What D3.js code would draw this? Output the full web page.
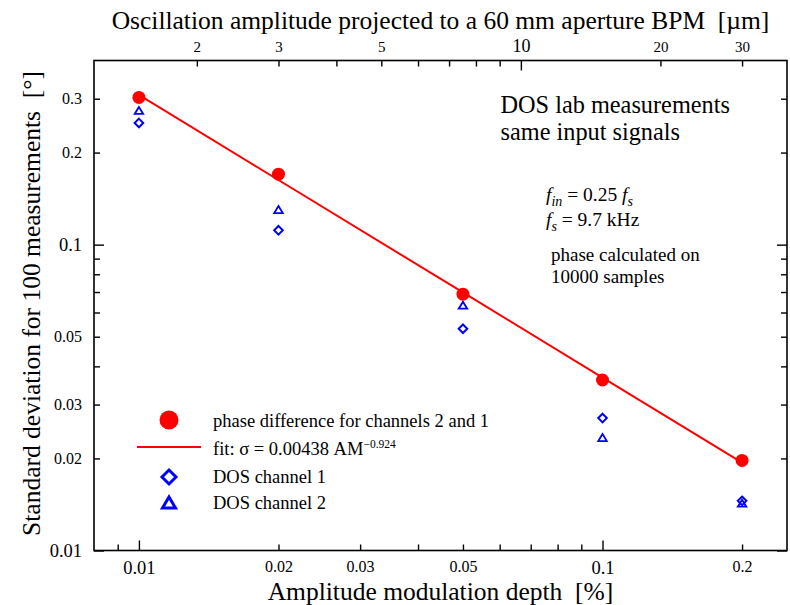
<!DOCTYPE html>
<html>
<head>
<meta charset="utf-8">
<script src="https://cdn.jsdelivr.net/npm/d3@7"></script>
<style>
  body { margin: 0; background: #fff; }
  svg text { font-family: "Liberation Serif", "Tinos", "DejaVu Serif", "Noto Serif", "Times New Roman", Times, serif; fill: #000; }
</style>
</head>
<body>
<svg id="chart" width="790" height="605"></svg>
<script>
// Amplitude modulation depth [%]
const depth = [0.01, 0.02, 0.05, 0.1, 0.2];
// Standard deviation of the phase difference, channels 2 and 1 [deg]
const phaseDiff = [0.303, 0.170, 0.0689, 0.0361, 0.0197];
// DOS channel 1 and channel 2 standard deviations [deg]
const dosCh1 = [0.250, 0.1114, 0.0531, 0.0271, 0.01453];
const dosCh2 = [0.2747, 0.1302, 0.0634, 0.0234, 0.01428];

// Power-law fit  sigma = A * AM^B
const fitCoef = 0.00438;
const fitExp = -0.924;

// Conversion of modulation depth [%] to oscillation amplitude [um] (60 mm aperture BPM)
const umPerPercent = 150;

// Tick positions and labels
const xTicks = [0.009, 0.01, 0.02, 0.03, 0.04, 0.05, 0.06, 0.07, 0.08, 0.09, 0.1, 0.2];
const xMajor = [0.01, 0.1];
const xLabels = [0.01, 0.02, 0.03, 0.05, 0.1, 0.2];
const yTicks = [0.01, 0.02, 0.03, 0.04, 0.05, 0.06, 0.07, 0.08, 0.09, 0.1, 0.2, 0.3];
const yMajor = [0.01, 0.1];
const yLabels = [0.01, 0.02, 0.03, 0.05, 0.1, 0.2, 0.3];
const topTicks = [2, 3, 4, 5, 6, 7, 8, 9, 10, 20, 30];
const topMajor = [10];
const topLabels = [2, 3, 5, 10, 20, 30];

const svg = d3.select("#chart");
const m = { left: 94, right: 787, top: 60.5, bottom: 550.5 };
const minorLen = 6, majorLen = 10;

const x = d3.scaleLog().domain([0.008, 0.25]).range([m.left, m.right]);
const xTop = d3.scaleLog()
  .domain(x.domain().map(v => v * umPerPercent))
  .range([m.left, m.right]);
const y = d3.scaleLog().domain([0.01, 0.4]).range([m.bottom, m.top]);

const serif = '"Liberation Serif", "Tinos", "DejaVu Serif", serif';

function finishAxis(g, majors, labelSizes, lineAttr, sign) {
  g.attr("font-family", serif);
  g.select(".domain").remove();
  g.selectAll(".tick line")
    .attr("stroke", "#000")
    .attr("stroke-width", 1.4)
    .attr(lineAttr, d => sign * (majors.includes(d) ? majorLen : minorLen));
  g.selectAll(".tick text")
    .attr("font-size", d => majors.includes(d) ? labelSizes[0] : labelSizes[1]);
}

// Bottom axis: modulation depth
const gBottom = svg.append("g")
  .attr("transform", `translate(0,${m.bottom})`)
  .call(d3.axisBottom(x).tickValues(xTicks).tickSizeInner(-minorLen).tickSizeOuter(0)
    .tickPadding(10).tickFormat(d => xLabels.includes(d) ? String(d) : ""));
finishAxis(gBottom, xMajor, [18.5, 16], "y2", -1);

// Top axis: oscillation amplitude in um
const gTop = svg.append("g")
  .attr("transform", `translate(0,${m.top})`)
  .call(d3.axisTop(xTop).tickValues(topTicks).tickSizeInner(-minorLen).tickSizeOuter(0)
    .tickPadding(9).tickFormat(d => topLabels.includes(d) ? String(d) : ""));
finishAxis(gTop, topMajor, [18, 15], "y2", 1);

// Left axis
const gLeft = svg.append("g")
  .attr("transform", `translate(${m.left},0)`)
  .call(d3.axisLeft(y).tickValues(yTicks).tickSizeInner(-minorLen).tickSizeOuter(0)
    .tickPadding(12).tickFormat(d => yLabels.includes(d) ? String(d) : ""));
finishAxis(gLeft, yMajor, [18.5, 16], "x2", 1);

// Right axis (ticks only)
const gRight = svg.append("g")
  .attr("transform", `translate(${m.right},0)`)
  .call(d3.axisRight(y).tickValues(yTicks).tickSizeInner(-minorLen).tickSizeOuter(0)
    .tickFormat(() => ""));
finishAxis(gRight, yMajor, [18.5, 16], "x2", -1);

// Plot frame
svg.append("rect")
  .attr("x", m.left).attr("y", m.top)
  .attr("width", m.right - m.left).attr("height", m.bottom - m.top)
  .attr("fill", "none").attr("stroke", "#000").attr("stroke-width", 1.6);

// Axis titles
svg.append("text")
  .attr("x", (m.left + m.right) / 2).attr("y", 29)
  .attr("text-anchor", "middle").attr("font-size", 25.5)
  .text("Oscillation amplitude projected to a 60 mm aperture BPM\u00a0\u00a0[\u00b5m]");

svg.append("text")
  .attr("x", (m.left + m.right) / 2).attr("y", 600)
  .attr("text-anchor", "middle").attr("font-size", 25.5)
  .text("Amplitude modulation depth\u00a0\u00a0[%]");

svg.append("text")
  .attr("transform", `translate(40,${(m.top + m.bottom) / 2 - 2}) rotate(-90)`)
  .attr("text-anchor", "middle").attr("font-size", 25.5)
  .text("Standard deviation for 100 measurements\u00a0\u00a0[\u00b0]");

// Fit line
const fitLine = d3.line().x(d => x(d)).y(d => y(fitCoef * Math.pow(d, fitExp)));
svg.append("path")
  .datum(depth)
  .attr("d", fitLine)
  .attr("fill", "none").attr("stroke", "#ff0000").attr("stroke-width", 2);

// Marker shapes
const blue = "#0000ff";
function diamondPath(cx, cy, r) {
  return `M${cx},${cy - r}L${cx + r},${cy}L${cx},${cy + r}L${cx - r},${cy}Z`;
}
function trianglePath(cx, cy, w, h) {
  return `M${cx},${cy - h / 2}L${cx + w / 2},${cy + h / 2}L${cx - w / 2},${cy + h / 2}Z`;
}

// DOS channel 1 (diamonds)
svg.append("g").selectAll("path")
  .data(depth.map((d, i) => [d, dosCh1[i]]))
  .join("path")
  .attr("d", d => diamondPath(x(d[0]), y(d[1]), 4.3))
  .attr("fill", "none").attr("stroke", blue).attr("stroke-width", 2);

// DOS channel 2 (triangles)
svg.append("g").selectAll("path")
  .data(depth.map((d, i) => [d, dosCh2[i]]))
  .join("path")
  .attr("d", d => trianglePath(x(d[0]), y(d[1]), 8.5, 7))
  .attr("fill", "none").attr("stroke", blue).attr("stroke-width", 1.8);

// Phase difference (filled circles)
svg.append("g").selectAll("circle")
  .data(depth.map((d, i) => [d, phaseDiff[i]]))
  .join("circle")
  .attr("cx", d => x(d[0])).attr("cy", d => y(d[1]))
  .attr("r", 6.5).attr("fill", "#ff0000");

// Legend
const lg = svg.append("g");
const lgX = 169, lgTextX = 213;
lg.append("circle").attr("cx", lgX).attr("cy", 420).attr("r", 9.5).attr("fill", "#ff0000");
lg.append("line").attr("x1", 137).attr("x2", 201).attr("y1", 447).attr("y2", 447)
  .attr("stroke", "#ff0000").attr("stroke-width", 2);
lg.append("path").attr("d", diamondPath(lgX, 477, 7))
  .attr("fill", "none").attr("stroke", blue).attr("stroke-width", 3);
lg.append("path").attr("d", trianglePath(lgX, 502.5, 13, 11))
  .attr("fill", "none").attr("stroke", blue).attr("stroke-width", 3);

const lgFont = 18.5;
lg.append("text").attr("x", lgTextX).attr("y", 427).attr("font-size", lgFont)
  .text("phase difference for channels 2 and 1");
const fitText = lg.append("text").attr("x", lgTextX).attr("y", 455).attr("font-size", lgFont);
fitText.append("tspan").text("fit: \u03c3 = 0.00438 AM");
fitText.append("tspan").attr("font-size", 11.5).attr("dy", -7).text("\u22120.924");
lg.append("text").attr("x", lgTextX).attr("y", 483).attr("font-size", lgFont)
  .text("DOS channel 1");
lg.append("text").attr("x", lgTextX).attr("y", 509).attr("font-size", lgFont)
  .text("DOS channel 2");

// Annotations
const note = svg.append("g");
note.append("text").attr("x", 500.5).attr("y", 112.5).attr("font-size", 24.3)
  .text("DOS lab measurements");
note.append("text").attr("x", 500.5).attr("y", 139.5).attr("font-size", 24.3)
  .text("same input signals");

const f1 = note.append("text").attr("x", 546).attr("y", 201).attr("font-size", 19.5);
f1.append("tspan").attr("font-style", "italic").text("f");
f1.append("tspan").attr("font-style", "italic").attr("font-size", 14).attr("dy", 5).text("in");
f1.append("tspan").attr("dy", -5).text(" = 0.25 ");
f1.append("tspan").attr("font-style", "italic").text("f");
f1.append("tspan").attr("font-style", "italic").attr("font-size", 14).attr("dy", 5).text("s");

const f2 = note.append("text").attr("x", 546).attr("y", 226).attr("font-size", 19.5);
f2.append("tspan").attr("font-style", "italic").text("f");
f2.append("tspan").attr("font-style", "italic").attr("font-size", 14).attr("dy", 5).text("s");
f2.append("tspan").attr("dy", -5).text(" = 9.7 kHz");

const calc = note.append("text").attr("x", 551).attr("y", 261).attr("font-size", 19);
calc.append("tspan").attr("x", 551).text("phase calculated on");
calc.append("tspan").attr("x", 551).attr("dy", 22).text("10000 samples");
</script>
</body>
</html>
